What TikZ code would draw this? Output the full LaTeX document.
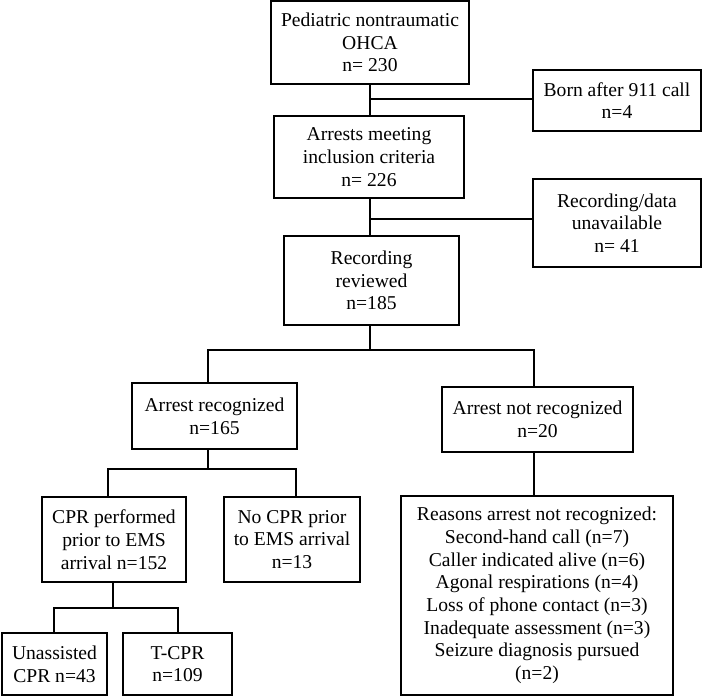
\documentclass[tikz,border=0pt]{standalone}
\usepackage{fontspec}
\setmainfont{Liberation Serif}
\begin{document}
\begin{tikzpicture}[x=1pt,y=-1pt,
  box/.style={draw,line width=1.5pt,align=center,inner sep=0pt,
    font=\fontsize{19.6}{22.7}\selectfont},
  link/.style={line width=1.5pt}]
\useasboundingbox (0,0) rectangle (709,696);
\node[box,minimum width=198,minimum height=83] (n1) at (370,42.5) {Pediatric nontraumatic\\OHCA\\n= 230};
\node[box,minimum width=168,minimum height=61] (born) at (617,100.5) {Born after 911 call\\n=4};
\node[box,minimum width=190,minimum height=82] (n2) at (369,157) {Arrests meeting\\inclusion criteria\\n= 226};
\node[box,minimum width=168,minimum height=88] (unav) at (617,223) {Recording/data\\unavailable\\n= 41};
\node[box,minimum width=175,minimum height=89] (n3) at (371.5,280.5) {Recording\\reviewed\\n=185};
\node[box,minimum width=165,minimum height=66] (rec) at (214.5,416) {Arrest recognized\\n=165};
\node[box,minimum width=191,minimum height=65] (notrec) at (537.5,419.5) {Arrest not recognized\\n=20};
\node[box,minimum width=144,minimum height=85] (cpr) at (114,539.5) {CPR performed\\prior to EMS\\arrival n=152};
\node[box,minimum width=136,minimum height=85] (nocpr) at (292,539.5) {No CPR prior\\to EMS arrival\\n=13};
\node[box,minimum width=105,minimum height=62] (unas) at (54.5,664) {Unassisted\\CPR n=43};
\node[box,minimum width=109,minimum height=62] (tcpr) at (177.5,664) {T-CPR\\n=109};
\node[box,minimum width=272,minimum height=199] (why) at (537,595.5) {Reasons arrest not recognized:\\Second-hand call (n=7)\\Caller indicated alive (n=6)\\Agonal respirations (n=4)\\Loss of phone contact (n=3)\\Inadequate assessment (n=3)\\Seizure diagnosis pursued\\(n=2)};
% junctions
\coordinate (j1) at (370,99);
\coordinate (j2) at (370,219);
\coordinate (j3) at (370,350);
\coordinate (j3l) at (208,350);
\coordinate (j3r) at (534,350);
\coordinate (j4) at (208,469);
\coordinate (j4l) at (108,469);
\coordinate (j4r) at (296,469);
\coordinate (j5) at (113,608);
\coordinate (j5l) at (54,608);
\coordinate (j5r) at (178,608);
% connectors
\draw[link] (n1.south -| j1) -- (n2.north -| j1);
\draw[link] (j1) -- (j1 -| born.west);
\draw[link] (n2.south -| j2) -- (n3.north -| j2);
\draw[link] (j2) -- (j2 -| unav.west);
\draw[link] (n3.south -| j3) -- (j3);
\draw[link] (j3l |- rec.north) -- (j3l) -- (j3r) -- (j3r |- notrec.north);
\draw[link] (rec.south -| j4) -- (j4);
\draw[link] (j4l |- cpr.north) -- (j4l) -- (j4r) -- (j4r |- nocpr.north);
\draw[link] (notrec.south -| j3r) -- (why.north -| j3r);
\draw[link] (cpr.south -| j5) -- (j5);
\draw[link] (j5l |- unas.north) -- (j5l) -- (j5r) -- (j5r |- tcpr.north);
\end{tikzpicture}
\end{document}
